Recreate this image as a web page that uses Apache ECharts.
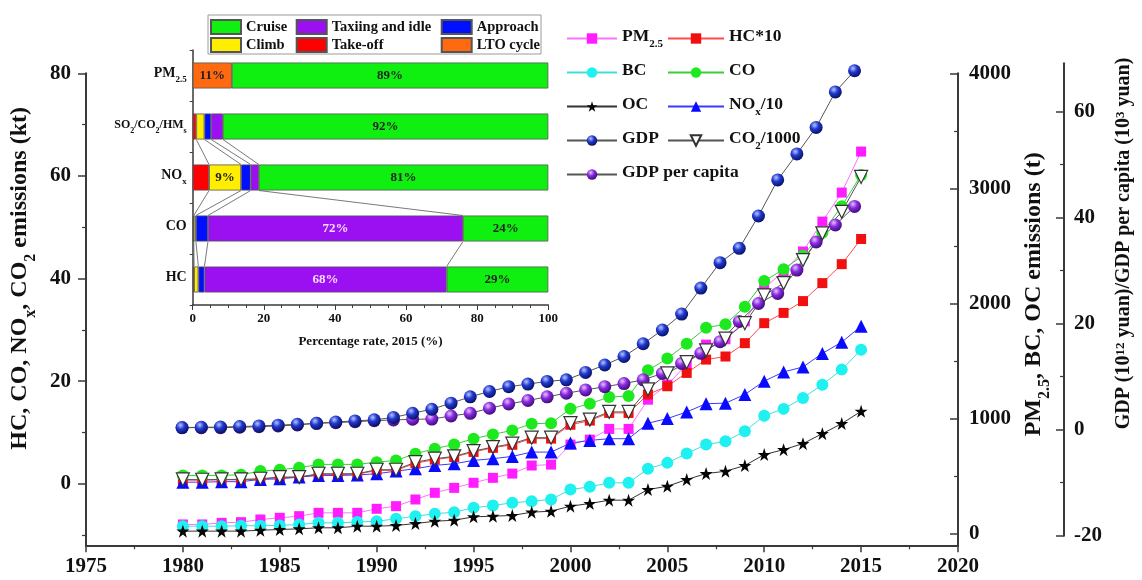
<!DOCTYPE html>
<html><head><meta charset="utf-8">
<script src="https://cdn.jsdelivr.net/npm/echarts@6/dist/echarts.min.js"></script>
<style>html,body{margin:0;padding:0;background:#fff}#c{width:1142px;height:580px}</style>
</head><body><div id="c"></div>
<script>
// ---------------- data ----------------
const years = [1980,1981,1982,1983,1984,1985,1986,1987,1988,1989,1990,1991,1992,1993,1994,1995,1996,1997,1998,1999,2000,2001,2002,2003,2004,2005,2006,2007,2008,2009,2010,2011,2012,2013,2014,2015];
// PM2.5, BC, OC emissions (t) - right axis
const pm25 = [81,81,95,101,124,139,153,182,182,182,217,240,298,356,399,443,486,523,593,601,775,818,911,911,1165,1295,1470,1643,1690,1845,2134,2279,2452,2712,2964,3320];
const bc   = [66,66,66,70,70,73,81,95,95,102,109,130,153,174,188,226,246,269,283,298,384,408,443,443,564,616,697,775,803,890,1026,1085,1180,1295,1426,1599];
const oc   = [23,23,23,23,31,37,43,52,52,66,66,72,89,109,118,147,153,159,188,196,240,263,292,292,384,413,471,523,543,593,688,731,783,870,957,1064];
// HC*10, CO, NOx/10, CO2/1000 (kt) - left axis
const hc10 = [0.7,0.7,0.75,0.75,0.9,1.2,1.3,1.8,1.8,1.85,2.6,2.6,4.0,4.7,5.2,6.2,7.0,7.6,8.8,8.8,11.5,12.3,13.8,13.8,17.4,19.0,21.6,24.2,24.8,27.4,31.3,33.3,35.6,39.1,42.8,47.7];
const co   = [1.62,1.62,1.62,1.75,2.46,2.73,3.12,3.77,3.77,3.77,4.2,4.55,5.85,6.83,7.67,8.78,9.62,10.4,11.7,11.8,14.6,15.6,16.9,17.1,22.1,24.4,27.3,30.4,31.1,34.5,39.5,41.8,44.5,48.9,54.1,60.2];
const nox10 = [0.31,0.31,0.4,0.4,0.84,0.95,1.3,1.62,1.62,1.7,1.95,2.46,2.93,3.57,3.9,4.55,4.88,5.33,6.17,6.17,7.92,8.45,8.78,8.78,11.8,12.7,14.0,15.6,15.7,17.4,20.0,21.8,22.75,25.4,27.6,30.7];
const co2k = [0.84,0.78,0.84,0.84,0.97,1.3,1.3,1.95,1.95,1.95,2.73,2.73,4.2,4.88,5.33,6.37,7.14,7.8,8.98,8.98,11.8,12.5,14.0,14.0,18.4,21.5,23.7,26.0,28.3,31.3,36.7,39.1,43.6,48.8,53.0,59.8];
// GDP (10^12 yuan), GDP per capita (10^3 yuan) - far right axis
const gdp  = [0.4,0.45,0.5,0.58,0.7,0.85,1.0,1.2,1.45,1.65,1.85,2.3,3.1,3.85,5.0,6.2,7.2,8.1,8.6,9.1,9.4,10.8,12.2,13.8,16.2,18.8,21.8,26.7,31.5,34.2,40.3,47.1,52.0,57.0,63.7,67.7];
const gdppc = [0.38,0.38,0.38,0.45,0.57,0.7,0.89,1.2,1.32,1.5,1.7,1.83,1.96,2.0,2.58,3.09,4.04,4.85,5.5,6.2,6.87,7.5,8.1,8.7,9.4,10.6,12.5,14.4,16.6,20.4,23.8,25.7,30.1,35.4,38.6,42.1];
// tick values
const leftMajor = [0,20,40,60,80];
const leftMinor = [-10,10,30,50,70];
const pmMajor = [0,1000,2000,3000,4000];
const pmMinor = [500,1500,2500,3500];
const gdpMajor = [-20,0,20,40,60];
const gdpMinor = [-10,10,30,50];
// inset: share of 2015 emissions by flight phase (%)
const insetCats = ['PM2.5','SO2/CO2/HMs','NOx','CO','HC'];
const lto      = [11,null,null,null,null];
const takeoff  = [null,1.0,4.6,0.3,0.4];
const climb    = [null,2.3,9.0,0.6,1.2];
const approach = [null,1.9,2.7,3.4,1.7];
const taxi     = [null,3.3,2.3,71.7,68.1];
const cruise   = [89,91.5,81.4,24.0,28.6];

// ---------------- helpers ----------------
const FONT = '"Liberation Serif","Times New Roman",serif';
function rich(S, color){
  const L = Math.round(S*1.3), sf = Math.round(S*0.65);
  color = color || '#111';
  return {
    n:{fontFamily:FONT,fontWeight:'bold',fontSize:S,color:color,lineHeight:L,verticalAlign:'top'},
    s:{fontFamily:FONT,fontWeight:'bold',fontSize:sf,color:color,lineHeight:sf,padding:[L-sf,0,0,0],verticalAlign:'top'},
    u:{fontFamily:FONT,fontWeight:'bold',fontSize:sf,color:color,lineHeight:sf,verticalAlign:'top'}
  };
}
const richNames = {
  'PM2.5':'{n|PM}{s|2.5}',
  'NOx/10':'{n|NO}{s|x}{n|/10}',
  'CO2/1000':'{n|CO}{s|2}{n|/1000}',
  'SO2/CO2/HMs':'{n|SO}{s|2}{n|/CO}{s|2}{n|/HM}{s|s}',
  'NOx':'{n|NO}{s|x}'
};
function rn(name){ return richNames[name] || ('{n|'+name+'}'); }
function rnLegend(name){ return richNames[name] || ('{n|'+name+'}{s| }'); }
const pairs = arr => years.map((y,i)=>[y, arr[i]]);
const AX = '#3a3a3a';
const plain = v => String(v);
const sphere = (hi, mid, lo) => ({type:'radial',x:0.38,y:0.32,r:0.7,colorStops:[{offset:0,color:hi},{offset:0.45,color:mid},{offset:1,color:lo}]});
const STAR = 'path://M50,2 L61.8,37.6 L99,37.6 L69,59.6 L80.4,95 L50,73.2 L19.6,95 L31,59.6 L1,37.6 L38.2,37.6 Z';

function lineSeries(name, arr, yIdx, xIdx, symbol, size, color, lineColor, extra){
  return Object.assign({
    name:name, type:'line', data:pairs(arr), xAxisIndex:xIdx, yAxisIndex:yIdx,
    symbol:symbol, symbolSize:size, showAllSymbol:true,
    itemStyle:{color:color, opacity:1},
    lineStyle:{color:lineColor, width:1},
    emphasis:{disabled:true}, animation:false
  }, extra||{});
}

// connector lines in the inset between adjacent bars (cumulative phase boundaries)
const phases = [takeoff, climb, approach, taxi];
const connectors = [];
for (let i = 1; i < insetCats.length - 1; i++) {
  let cu = 0, cl = 0;
  for (let k = 0; k < phases.length; k++) {
    cu += phases[k][i] || 0; cl += phases[k][i+1] || 0;
    connectors.push([cu, i, cl, i+1]);
  }
}

function barSeries(name, arr, color, labelColor){
  return {
    name:name, type:'bar', stack:'s', data:arr, xAxisIndex:2, yAxisIndex:6,
    barWidth:26,
    itemStyle:{color:color, borderColor:'#555', borderWidth:0.8},
    label:{show:true, position:'inside', fontFamily:FONT, fontWeight:'bold', fontSize:13, color:labelColor||'#222',
      formatter:p => (p.value >= 9 ? Math.round(p.value)+'%' : '')},
    emphasis:{disabled:true}, animation:false
  };
}

const chart = echarts.init(document.getElementById('c'), null, {renderer:'canvas'});
const tickLab = {fontFamily:FONT, fontWeight:'bold', fontSize:21, color:'#111', formatter:plain};
const R24 = rich(24), R20 = rich(20), R17 = rich(17.5), R14 = rich(14), R12 = rich(12);
const insetLegendText = {fontFamily:FONT,fontWeight:'bold',fontSize:14.5,color:'#111',lineHeight:14};

chart.setOption({
  backgroundColor:'#fff',
  animation:false,
  grid:[
    {left:86, right:184, top:73.3, bottom:34.7},
    {left:86, right:184, top:63.3, bottom:44.3},
    {left:192.7, right:593.7, top:50, bottom:275}
  ],
  graphic:[
    {type:'rect', z:-1, shape:{x:208, y:15, width:333, height:39}, style:{fill:'#fff', stroke:'#9a9a9a', lineWidth:1}}
  ],
  legend:[
    {left:566, top:27, padding:0, orient:'vertical', itemWidth:50, itemHeight:13, itemGap:11,
     data:['PM2.5','BC','OC','GDP','GDP per capita'], formatter:rnLegend, textStyle:{rich:R17}, selectedMode:false},
    {left:667, top:27, padding:0, orient:'vertical', itemWidth:56, itemHeight:13, itemGap:11,
     data:['HC*10','CO','NOx/10','CO2/1000'], formatter:rnLegend, textStyle:{rich:R17}, selectedMode:false},
    {left:210, top:19, padding:0, orient:'vertical', itemWidth:30, itemHeight:14, itemGap:2, icon:'rect',
     data:['Cruise','Climb'], textStyle:insetLegendText, selectedMode:false},
    {left:295.7, top:19, padding:0, orient:'vertical', itemWidth:30, itemHeight:14, itemGap:2, icon:'rect',
     data:['Taxiing and idle','Take-off'], textStyle:insetLegendText, selectedMode:false},
    {left:440.7, top:19, padding:0, orient:'vertical', itemWidth:30, itemHeight:14, itemGap:2, icon:'rect',
     data:['Approach','LTO cycle'], textStyle:insetLegendText, selectedMode:false}
  ],
  xAxis:[
    {type:'value', gridIndex:0, min:1975, max:2020, interval:5,
     axisLine:{show:true, onZero:false, lineStyle:{color:AX, width:2}},
     axisTick:{show:true, length:7, lineStyle:{color:AX, width:1.5}},
     minorTick:{show:true, splitNumber:2, length:4, lineStyle:{color:AX, width:1.2}},
     axisLabel:Object.assign({margin:11}, tickLab), splitLine:{show:false}},
    {type:'value', gridIndex:1, min:1975, max:2020, show:false},
    {type:'value', gridIndex:2, min:0, max:100, interval:20,
     axisLine:{show:true, onZero:false, lineStyle:{color:AX, width:1.5}},
     axisTick:{show:true, length:5, lineStyle:{color:AX}},
     minorTick:{show:true, splitNumber:4, length:3, lineStyle:{color:AX}},
     axisLabel:{fontFamily:FONT, fontWeight:'bold', fontSize:13, color:'#111', margin:7, formatter:plain},
     splitLine:{show:false},
     name:'Percentage rate, 2015 (%)', nameLocation:'middle', nameGap:30,
     nameTextStyle:{fontFamily:FONT, fontWeight:'bold', fontSize:13, color:'#111'}}
  ],
  yAxis:[
    {type:'value', gridIndex:0, position:'left', min:-12, max:80,
     axisLine:{show:true, onZero:false, lineStyle:{color:AX, width:2}},
     axisTick:{show:true, length:8, customValues:leftMajor, lineStyle:{color:AX, width:1.5}},
     axisLabel:Object.assign({margin:15, customValues:leftMajor}, tickLab), splitLine:{show:false},
     name:'{n|HC, CO, NO}{s|x}{n|, CO}{s|2}{n| emissions (kt)}', nameLocation:'middle', nameGap:44, nameRotate:90,
     nameTextStyle:{rich:R24, padding:[0,0,0,62]}},
    {type:'value', gridIndex:0, position:'left', min:-12, max:80,
     axisLine:{show:false}, axisLabel:{show:false}, splitLine:{show:false},
     axisTick:{show:true, length:4, customValues:leftMinor, lineStyle:{color:AX, width:1.2}}},
    {type:'value', gridIndex:0, position:'right', min:-100, max:4000,
     axisLine:{show:true, onZero:false, lineStyle:{color:AX, width:2}},
     axisTick:{show:true, inside:true, length:8, customValues:pmMajor, lineStyle:{color:AX, width:1.5}},
     axisLabel:Object.assign({margin:11, customValues:pmMajor}, tickLab), splitLine:{show:false},
     name:'{n|PM}{s|2.5}{n|, BC, OC emissions (t)}', nameLocation:'middle', nameGap:58, nameRotate:90,
     nameTextStyle:{rich:R24, padding:[0,0,0,30]}},
    {type:'value', gridIndex:0, position:'right', min:-100, max:4000,
     axisLine:{show:false}, axisLabel:{show:false}, splitLine:{show:false},
     axisTick:{show:true, inside:true, length:4, customValues:pmMinor, lineStyle:{color:AX, width:1.2}}},
    {type:'value', gridIndex:1, position:'right', offset:113.4, min:-20, max:69.1,
     axisLine:{show:true, onZero:false, lineStyle:{color:AX, width:2}},
     axisTick:{show:true, inside:true, length:8, customValues:gdpMajor, lineStyle:{color:AX, width:1.5}},
     axisLabel:Object.assign({margin:10, customValues:gdpMajor}, tickLab), splitLine:{show:false},
     name:'{n|GDP (10}{u|12}{n| yuan)/GDP per capita (10}{u|3}{n| yuan)}', nameLocation:'middle', nameGap:50, nameRotate:90,
     nameTextStyle:{rich:R20, padding:[0,0,0,112]}},
    {type:'value', gridIndex:1, position:'right', offset:113.4, min:-20, max:69.1,
     axisLine:{show:false}, axisLabel:{show:false}, splitLine:{show:false},
     axisTick:{show:true, inside:true, length:4, customValues:gdpMinor, lineStyle:{color:AX, width:1.2}}},
    {type:'category', gridIndex:2, data:insetCats, inverse:true,
     axisLine:{show:true, lineStyle:{color:AX, width:1.5}},
     axisTick:{show:true, length:3, lineStyle:{color:AX}},
     axisLabel:{margin:6, formatter:v => {
        if (v === 'SO2/CO2/HMs') return '{m|SO}{ms|2}{m|/CO}{ms|2}{m|/HM}{ms|s}';
        return rn(v);
      }, rich:Object.assign({}, R14, {m:R12.n, ms:R12.s})},
     splitLine:{show:false}}
  ],
  series:[
    lineSeries('PM2.5', pm25, 2, 0, 'rect', 10, '#ff1cff', '#ff70ff'),
    lineSeries('BC', bc, 2, 0, 'circle', 12, '#1ff0f0', '#3fdede'),
    lineSeries('OC', oc, 2, 0, STAR, 13, '#050505', '#333'),
    lineSeries('HC*10', hc10, 0, 0, 'rect', 10, '#f01010', '#ff4a4a'),
    lineSeries('CO', co, 0, 0, 'circle', 12, '#1ee81e', '#3ccc3c'),
    lineSeries('NOx/10', nox10, 0, 0, 'triangle', 13, '#0a0aff', '#3a3aff'),
    lineSeries('GDP per capita', gdppc, 4, 1, 'circle', 13, sphere('#e6c4ff','#8a2ae0','#3b0b78'), '#555'),
    lineSeries('GDP', gdp, 4, 1, 'circle', 13, sphere('#b8c6ff','#2038d0','#08105e'), '#555'),
    lineSeries('CO2/1000', co2k, 0, 0, 'triangle', 13, '#ffffff', '#555',
      {symbolRotate:180, itemStyle:{color:'#fff', borderColor:'#333', borderWidth:1.2, opacity:1}}),
    barSeries('LTO cycle', lto, '#ff6a10'),
    barSeries('Take-off', takeoff, '#ff0000'),
    barSeries('Climb', climb, '#ffee00'),
    barSeries('Approach', approach, '#0010ff'),
    barSeries('Taxiing and idle', taxi, '#9a10f0', '#ffe0ff'),
    barSeries('Cruise', cruise, '#10f010'),
    {type:'custom', xAxisIndex:2, yAxisIndex:6, data:connectors, encode:{x:[0,2], y:[1,3]}, z:1, silent:true, animation:false,
     renderItem:(params, api) => {
       const p1 = api.coord([api.value(0), api.value(1)]);
       const p2 = api.coord([api.value(2), api.value(3)]);
       const half = 13;
       return {type:'line', shape:{x1:p1[0], y1:p1[1]+half, x2:p2[0], y2:p2[1]-half},
               style:{stroke:'#6a6a6a', lineWidth:0.9}};
     }}
  ]
});
</script>
</body></html>
